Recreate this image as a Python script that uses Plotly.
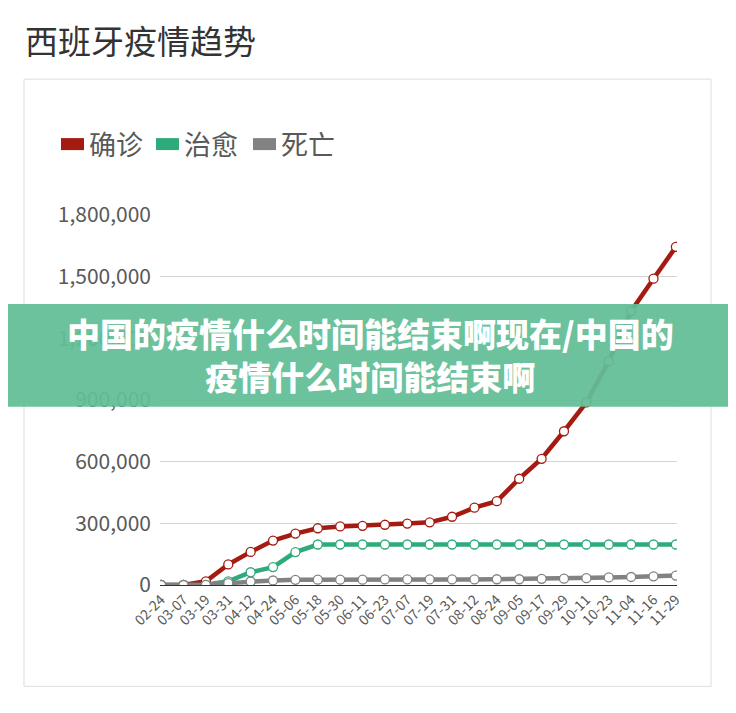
import plotly.graph_objects as go

# dates shown on the x axis (one marker per date)
dates = ["02-24", "03-07", "03-19", "03-31", "04-12", "04-24", "05-06", "05-18",
         "05-30", "06-11", "06-23", "07-07", "07-19", "07-31", "08-12", "08-24",
         "09-05", "09-17", "09-29", "10-11", "10-23", "11-04", "11-16", "11-29"]

confirmed = [0, 500, 18000, 100000, 161000, 216000, 250000, 276000,
             285000, 288000, 293000, 299000, 305000, 332000, 376000, 408000,
             517000, 614000, 748000, 888000, 1089000, 1332000, 1490000, 1645000]
recovered = [0, 0, 1000, 18000, 62000, 87000, 160000, 197000,
             197000, 197000, 197000, 197000, 197000, 197000, 197000, 197000,
             197000, 197000, 197000, 197000, 197000, 197000, 197000, 197000]
deaths = [0, 0, 1000, 9000, 17000, 22000, 25000, 26000,
          26000, 26000, 27000, 27000, 27000, 27000, 27000, 28000,
          28000, 30000, 31000, 33000, 37000, 39000, 42000, 46000]

series_names = ["确诊", "治愈", "死亡"]
colors = ["#a51b12", "#2eaa7b", "#828282"]

FONT = "Noto Sans CJK SC"

# the page body adds an 8px offset, so pixel targets are shifted by -8
OFF = 8
PL, PR, PT, PB = 160 - OFF, 677 - OFF, 215 - OFF, 585.5 - OFF
PW, PH = PR - PL, PB - PT


def px(x):
    return (x - OFF - PL) / PW


def py(y):
    return (PB - (y - OFF)) / PH


fig = go.Figure()
for name, vals, c in zip(series_names, [confirmed, recovered, deaths], colors):
    fig.add_trace(go.Scatter(
        x=dates, y=vals, name=name, mode="lines+markers",
        line=dict(color=c, width=4.5),
        marker=dict(size=9, color="white", line=dict(color=c, width=1.3)),
        showlegend=False))

# hand-made legend (colour bars + labels)
leg_x = [61, 156, 253]
shapes = []
annotations = []
for name, c, lx in zip(series_names, colors, leg_x):
    shapes.append(dict(type="rect", xref="paper", yref="paper",
                       x0=px(lx), x1=px(lx + 23), y0=py(150), y1=py(138),
                       fillcolor=c, line=dict(width=0), layer="above"))
    annotations.append(dict(text=name, xref="paper", yref="paper",
                            x=px(lx + 26), y=py(143),
                            xanchor="left", yanchor="middle", showarrow=False,
                            font=dict(family=FONT, size=27, color="#595959")))

# card border
shapes.append(dict(type="rect", xref="paper", yref="paper",
                   x0=px(24), x1=px(711), y0=py(687), y1=py(79),
                   line=dict(color="#dddddd", width=1), layer="below"))

# green banner across the chart
shapes.append(dict(type="rect", xref="paper", yref="paper",
                   x0=px(0), x1=px(744), y0=py(407), y1=py(304),
                   fillcolor="rgba(98,190,150,0.94)", line=dict(width=0),
                   layer="above"))
annotations.append(dict(text="中国的疫情什么时间能结束啊现在/中国的<br>疫情什么时间能结束啊",
                        xref="paper", yref="paper",
                        x=px(370), y=py(355),
                        xanchor="center", yanchor="middle", showarrow=False,
                        align="center",
                        font=dict(family=FONT, size=33, color="white", weight=900)))

fig.update_layout(
    width=736, height=713,
    margin=dict(l=PL, r=736 - PR, t=PT, b=713 - PB),
    paper_bgcolor="white", plot_bgcolor="white",
    title=dict(text="西班牙疫情趋势", x=(25 - OFF) / 736, xanchor="left",
               y=1 - (42 - OFF) / 713, yanchor="middle",
               font=dict(family=FONT, size=33, color="#333333")),
    shapes=shapes, annotations=annotations,
    xaxis=dict(type="category", range=[-0.05, 23.05], tickangle=-45,
               showgrid=False, showline=True, linecolor="#333333", linewidth=1,
               ticks="", tickfont=dict(family=FONT, size=14, color="#595959")),
    yaxis=dict(range=[0, 1800000], tickvals=[0, 300000, 600000, 900000, 1200000, 1500000, 1800000],
               tickformat=",", showgrid=True, gridcolor="#d4d4d4", zeroline=False,
               showline=False, ticks="", ticklabelstandoff=8,
               tickfont=dict(family=FONT, size=21, color="#595959")),
)

fig.write_html("out.html")
